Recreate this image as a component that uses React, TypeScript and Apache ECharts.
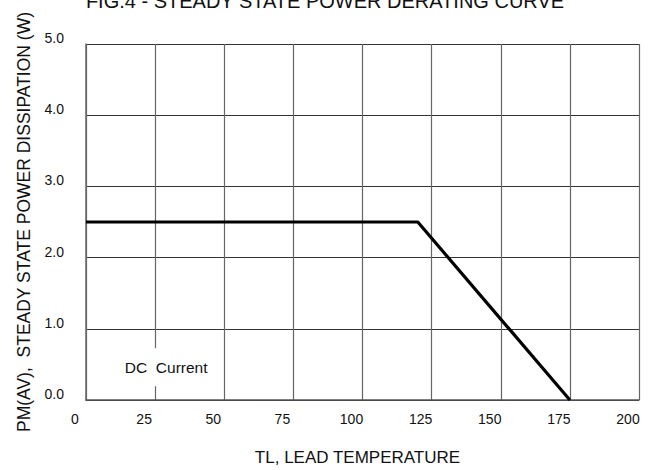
import React, { useEffect, useRef } from "react";
import * as echarts from "echarts";

// Data
const titleText = "FIG.4 - STEADY STATE POWER DERATING CURVE";
const xName = "TL, LEAD TEMPERATURE";
const yName = "PM(AV),  STEADY STATE POWER DISSIPATION (W)";
const xRange = [0, 200];
const xStep = 25;
const yRange = [0, 5];
const yStep = 1;
const deratingTemp = [0, 120, 175];
const deratingPower = [2.5, 2.5, 0];
const noteText = "DC  Current";
const noteAt = [29, 0.46];

const FONT = "'Liberation Sans', Arial, Helvetica, sans-serif";

export default function App() {
  const ref = useRef<HTMLDivElement>(null);
  useEffect(() => {
    if (!ref.current) return;
    const chart = echarts.init(ref.current, undefined, { renderer: "svg" });
    const data = deratingTemp.map((t, i) => [t, deratingPower[i]]);
    chart.setOption({
      animation: false,
      backgroundColor: "#ffffff",
      textStyle: { fontFamily: FONT },
      title: {
        text: titleText,
        left: "center",
        top: -9,
        padding: [0, 0, 0, 58],
        textStyle: { fontFamily: FONT, fontSize: 20, fontWeight: "normal", color: "#111" },
      },
      grid: {
        left: 86,
        right: 11,
        top: 44,
        bottom: 70,
        containLabel: false,
        outerBoundsMode: "none",
      },
      xAxis: {
        type: "value",
        min: xRange[0],
        max: xRange[1],
        interval: xStep,
        name: xName,
        nameLocation: "middle",
        nameGap: 49,
        nameTextStyle: { fontFamily: FONT, fontSize: 17, color: "#111", padding: [0, 10, 0, 0] },
        axisLine: { show: true, lineStyle: { color: "#555", width: 1.5 } },
        axisTick: { show: false },
        axisLabel: {
          fontFamily: FONT,
          fontSize: 14,
          color: "#111",
          margin: 12,
          padding: [0, 22, 0, 0],
        },
        splitLine: { show: true, lineStyle: { color: "#666", width: 1.2 } },
      },
      yAxis: {
        type: "value",
        min: yRange[0],
        max: yRange[1],
        interval: yStep,
        name: yName,
        nameLocation: "middle",
        nameRotate: 90,
        nameGap: 53,
        nameTextStyle: { fontFamily: FONT, fontSize: 17.5, color: "#111" },
        axisLine: { show: true, lineStyle: { color: "#666", width: 1.5 } },
        axisTick: { show: false },
        axisLabel: {
          fontFamily: FONT,
          fontSize: 14,
          color: "#111",
          margin: 22,
          verticalAlign: "bottom",
          lineHeight: 12,
          formatter: (v: number) => v.toFixed(1),
        },
        splitLine: { show: true, lineStyle: { color: "#333", width: 1.2 } },
      },
      series: [
        {
          type: "line",
          data,
          showSymbol: false,
          symbol: "none",
          lineStyle: { color: "#000", width: 3.2 },
          markPoint: {
            silent: true,
            symbol: "rect",
            symbolSize: 1,
            itemStyle: { color: "rgba(0,0,0,0)" },
            data: [
              {
                coord: noteAt,
                label: {
                  show: true,
                  position: "inside",
                  formatter: noteText,
                  fontFamily: FONT,
                  fontSize: 15.5,
                  color: "#111",
                  backgroundColor: "#ffffff",
                  padding: [11, 3, 11, 3],
                },
              },
            ],
          },
        },
      ],
    });
    return () => chart.dispose();
  }, []);
  return (
    <div
      ref={ref}
      style={{ position: "fixed", left: 0, top: 0, width: 650, height: 470, background: "#fff" }}
    />
  );
}
